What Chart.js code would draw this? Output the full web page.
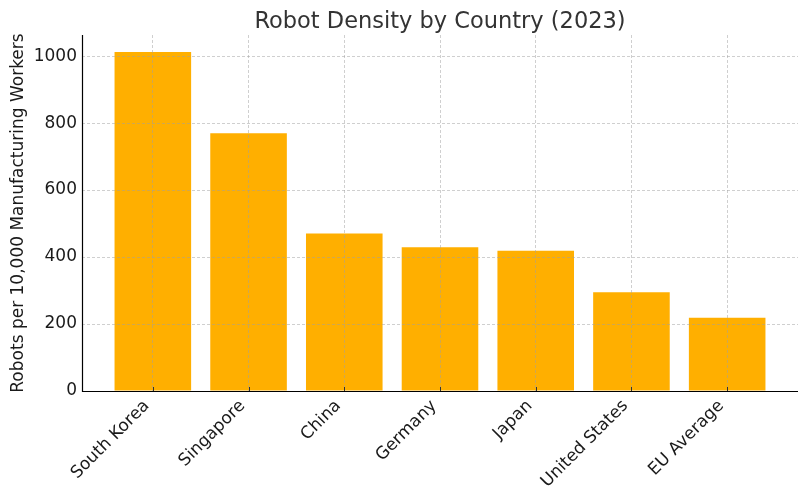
<!DOCTYPE html>
<html lang="en">
<head>
    <meta charset="UTF-8">
    <title>Robot Density by Country (2023)</title>
    <script src="https://cdn.jsdelivr.net/npm/chart.js"></script>
    <style>
        body { margin: 0; background: #fff; }
    </style>
</head>
<body>
    <canvas id="robotChart" width="810" height="502"></canvas>

    <script>
        const countries = ['South Korea', 'Singapore', 'China', 'Germany', 'Japan', 'United States', 'EU Average'];
        const density = [1012, 770, 470, 429, 419, 295, 219];
        const yTicks = [0, 200, 400, 600, 800, 1000];

        const titleText = 'Robot Density by Country (2023)';
        const yLabel = 'Robots per 10,000 Manufacturing Workers';

        // title centred over the plot area, left/bottom spines, small inward x ticks
        const axesDecor = {
            id: 'axesDecor',
            afterDraw(chart) {
                const { ctx, chartArea, scales } = chart;
                ctx.save();
                ctx.font = '22.5px "DejaVu Sans"';
                ctx.fillStyle = '#333333';
                ctx.textAlign = 'center';
                ctx.textBaseline = 'bottom';
                ctx.fillText(titleText, (chartArea.left + chartArea.right) / 2, chartArea.top - 2);

                ctx.strokeStyle = '#000000';
                ctx.lineWidth = 1.2;
                ctx.beginPath();
                ctx.moveTo(chartArea.left + 0.5, chartArea.top);
                ctx.lineTo(chartArea.left + 0.5, chartArea.bottom + 0.5);
                ctx.lineTo(chartArea.right, chartArea.bottom + 0.5);
                ctx.stroke();

                ctx.strokeStyle = '#333333';
                ctx.lineWidth = 1;
                ctx.beginPath();
                countries.forEach((c, i) => {
                    const px = Math.round(scales.x.getPixelForValue(i)) + 0.5;
                    ctx.moveTo(px, chartArea.bottom);
                    ctx.lineTo(px, chartArea.bottom - 4);
                });
                ctx.stroke();
                ctx.restore();
            }
        };

        const gridStyle = {
            z: 1,
            offset: false,
            color: 'rgba(160,160,160,0.5)',
            drawTicks: false
        };
        // in v4 the grid line dash lives on the border options
        const borderStyle = { display: false, dash: [3, 2] };

        const ctx = document.getElementById('robotChart').getContext('2d');
        const robotChart = new Chart(ctx, {
            type: 'bar',
            data: {
                datasets: [{
                    data: density.map((v, i) => ({ x: i, y: v })),
                    backgroundColor: '#FFAF00',
                    borderWidth: 0,
                    barPercentage: 0.8,
                    categoryPercentage: 1.0
                }]
            },
            options: {
                responsive: false,
                animation: false,
                layout: { padding: { top: 35, right: 12, left: 0, bottom: 0 } },
                plugins: {
                    legend: { display: false },
                    tooltip: { enabled: false }
                },
                scales: {
                    x: {
                        type: 'linear',
                        offset: false,
                        min: -0.74,
                        max: 6.74,
                        afterBuildTicks: (scale) => {
                            scale.ticks = countries.map((c, i) => ({ value: i }));
                        },
                        afterFit: (scale) => { scale.height = 111; },
                        ticks: {
                            callback: (value) => countries[value],
                            autoSkip: false,
                            maxRotation: 45,
                            minRotation: 45,
                            labelOffset: -6,
                            color: '#1a1a1a',
                            padding: 5,
                            font: { family: 'DejaVu Sans', size: 17 }
                        },
                        grid: gridStyle,
                        border: borderStyle
                    },
                    y: {
                        min: 0,
                        max: 1063,
                        afterBuildTicks: (scale) => {
                            scale.ticks = yTicks.map(v => ({ value: v }));
                        },
                        afterFit: (scale) => { scale.width = 82; },
                        ticks: {
                            callback: (value) => String(value),
                            color: '#1a1a1a',
                            padding: 5,
                            font: { family: 'DejaVu Sans', size: 17 }
                        },
                        grid: gridStyle,
                        border: borderStyle,
                        title: {
                            display: true,
                            text: yLabel,
                            color: '#1a1a1a',
                            padding: { top: 8, bottom: 0 },
                            font: { family: 'DejaVu Sans', size: 17 }
                        }
                    }
                }
            },
            plugins: [axesDecor]
        });
    </script>
</body>
</html>
